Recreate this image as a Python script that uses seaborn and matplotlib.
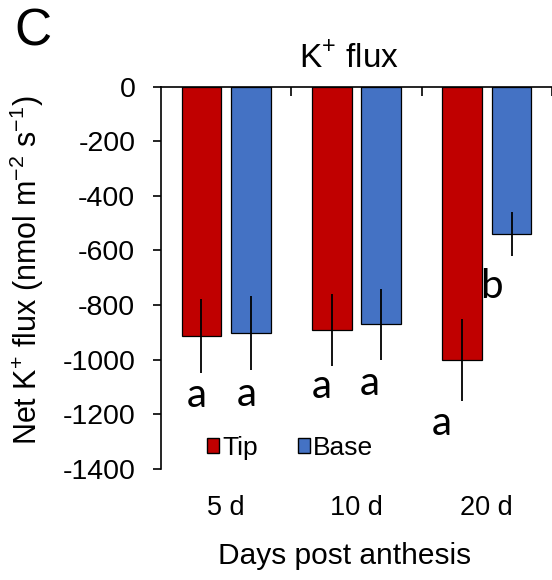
import pandas as pd
import matplotlib
matplotlib.use('Agg')
from matplotlib import pyplot as plt
from matplotlib.ticker import FixedLocator
import seaborn as sns

# values
days = ['5 d', '10 d', '20 d']
parts = ['Tip', 'Base']
tip_flux = [-913, -891, -1001]
base_flux = [-903, -870, -540]
tip_err = [136, 133, 150]
base_err = [135, 130, 80]
tip_letters = ['a', 'a', 'a']
base_letters = ['a', 'a', 'b']
tip_letter_y = [-1174, -1140, -1275]
base_letter_y = [-1168, -1129, -774]
tip_letter_dx = [-0.035, -0.08, -0.154]
base_letter_dx = [-0.03, -0.09, -0.154]
y_ticks = [0, -200, -400, -600, -800, -1000, -1200, -1400]

colors = ['#C00000', '#4472C4']

sns.set_style('white')
plt.rcParams['font.family'] = ['Liberation Sans', 'DejaVu Sans']
plt.rcParams['mathtext.fontset'] = 'custom'
plt.rcParams['mathtext.rm'] = 'Liberation Sans'
for key in ['text.color', 'axes.labelcolor', 'xtick.color', 'ytick.color']:
    plt.rcParams[key] = 'black'

df = pd.DataFrame({
    'day': days * 2,
    'part': ['Tip'] * 3 + ['Base'] * 3,
    'flux': tip_flux + base_flux,
})

fig = plt.figure(figsize=(5.52, 5.80), dpi=100)
ax = fig.add_axes([161 / 552, 1 - 469 / 580, 391 / 552, 382.4 / 580])

sns.barplot(data=df, x='day', y='flux', hue='part', hue_order=parts,
            palette=colors, saturation=1, width=0.76, gap=0.2,
            edgecolor='black', linewidth=0.9, errorbar=None, ax=ax)

# error bars and significance letters at bar centres
errs = [tip_err, base_err]
vals = [tip_flux, base_flux]
letters = [tip_letters, base_letters]
letter_y = [tip_letter_y, base_letter_y]
letter_dx = [tip_letter_dx, base_letter_dx]
bar_conts = list(ax.containers)
for k, cont in enumerate(bar_conts):
    xs = [b.get_x() + b.get_width() / 2 for b in cont.patches]
    ax.errorbar(xs, vals[k], yerr=errs[k], fmt='none', ecolor='black',
                elinewidth=1.3, capsize=0, zorder=5)
    for i, x in enumerate(xs):
        ax.text(x + letter_dx[k][i], letter_y[k][i], letters[k][i],
                ha='center', va='baseline', fontsize=29,
                family=['Lato', 'DejaVu Sans'])

ax.set_xlim(-0.5, 2.5)
ax.set_ylim(-1400, 0)
ax.set_yticks(y_ticks)
ax.set_yticklabels([str(t) for t in y_ticks])

for side in ['right', 'bottom']:
    ax.spines[side].set_visible(False)
for side in ['left', 'top']:
    ax.spines[side].set_linewidth(1.2)
    ax.spines[side].set_color('black')

ax.tick_params(axis='y', direction='out', length=6, width=1.2, pad=12.5,
               labelsize=20.5, left=True)
ax.tick_params(axis='x', which='major', length=0, pad=19, labelsize=19.5,
               bottom=False, top=False)
ax.xaxis.set_minor_locator(FixedLocator([0.5, 1.5, 2.5]))
ax.tick_params(axis='x', which='minor', direction='in', length=6.5, width=1.2,
               bottom=False, top=True)

ax.set_xlabel('Days post anthesis', fontsize=21.5)
ax.xaxis.set_label_coords(0.47, -0.19)
ax.set_ylabel(r'Net K$^\mathregular{+}$ flux (nmol m$^\mathregular{-2}$ s$^\mathregular{-1}$)',
              fontsize=22)
ax.yaxis.set_label_coords(-0.295, 0.52)
ax.set_title(r'K$^\mathregular{+}$ flux', fontsize=24, x=0.482, pad=14)

handles, labels = ax.get_legend_handles_labels()
for h in handles:
    h.set_edgecolor('black')
    h.set_linewidth(1.0)
ax.legend(handles, labels, ncol=2, frameon=False, fontsize=19,
          handlelength=0.47, handleheight=0.47, handletextpad=0.12,
          columnspacing=1.5, borderpad=0, borderaxespad=0,
          loc='center left', bbox_to_anchor=(207 / 552, 1 - 448 / 580),
          bbox_transform=fig.transFigure)

fig.text(14 / 552, 1 - 45.5 / 580, 'C', fontsize=37, ha='left', va='baseline')

fig.savefig('out.png', dpi=100)
